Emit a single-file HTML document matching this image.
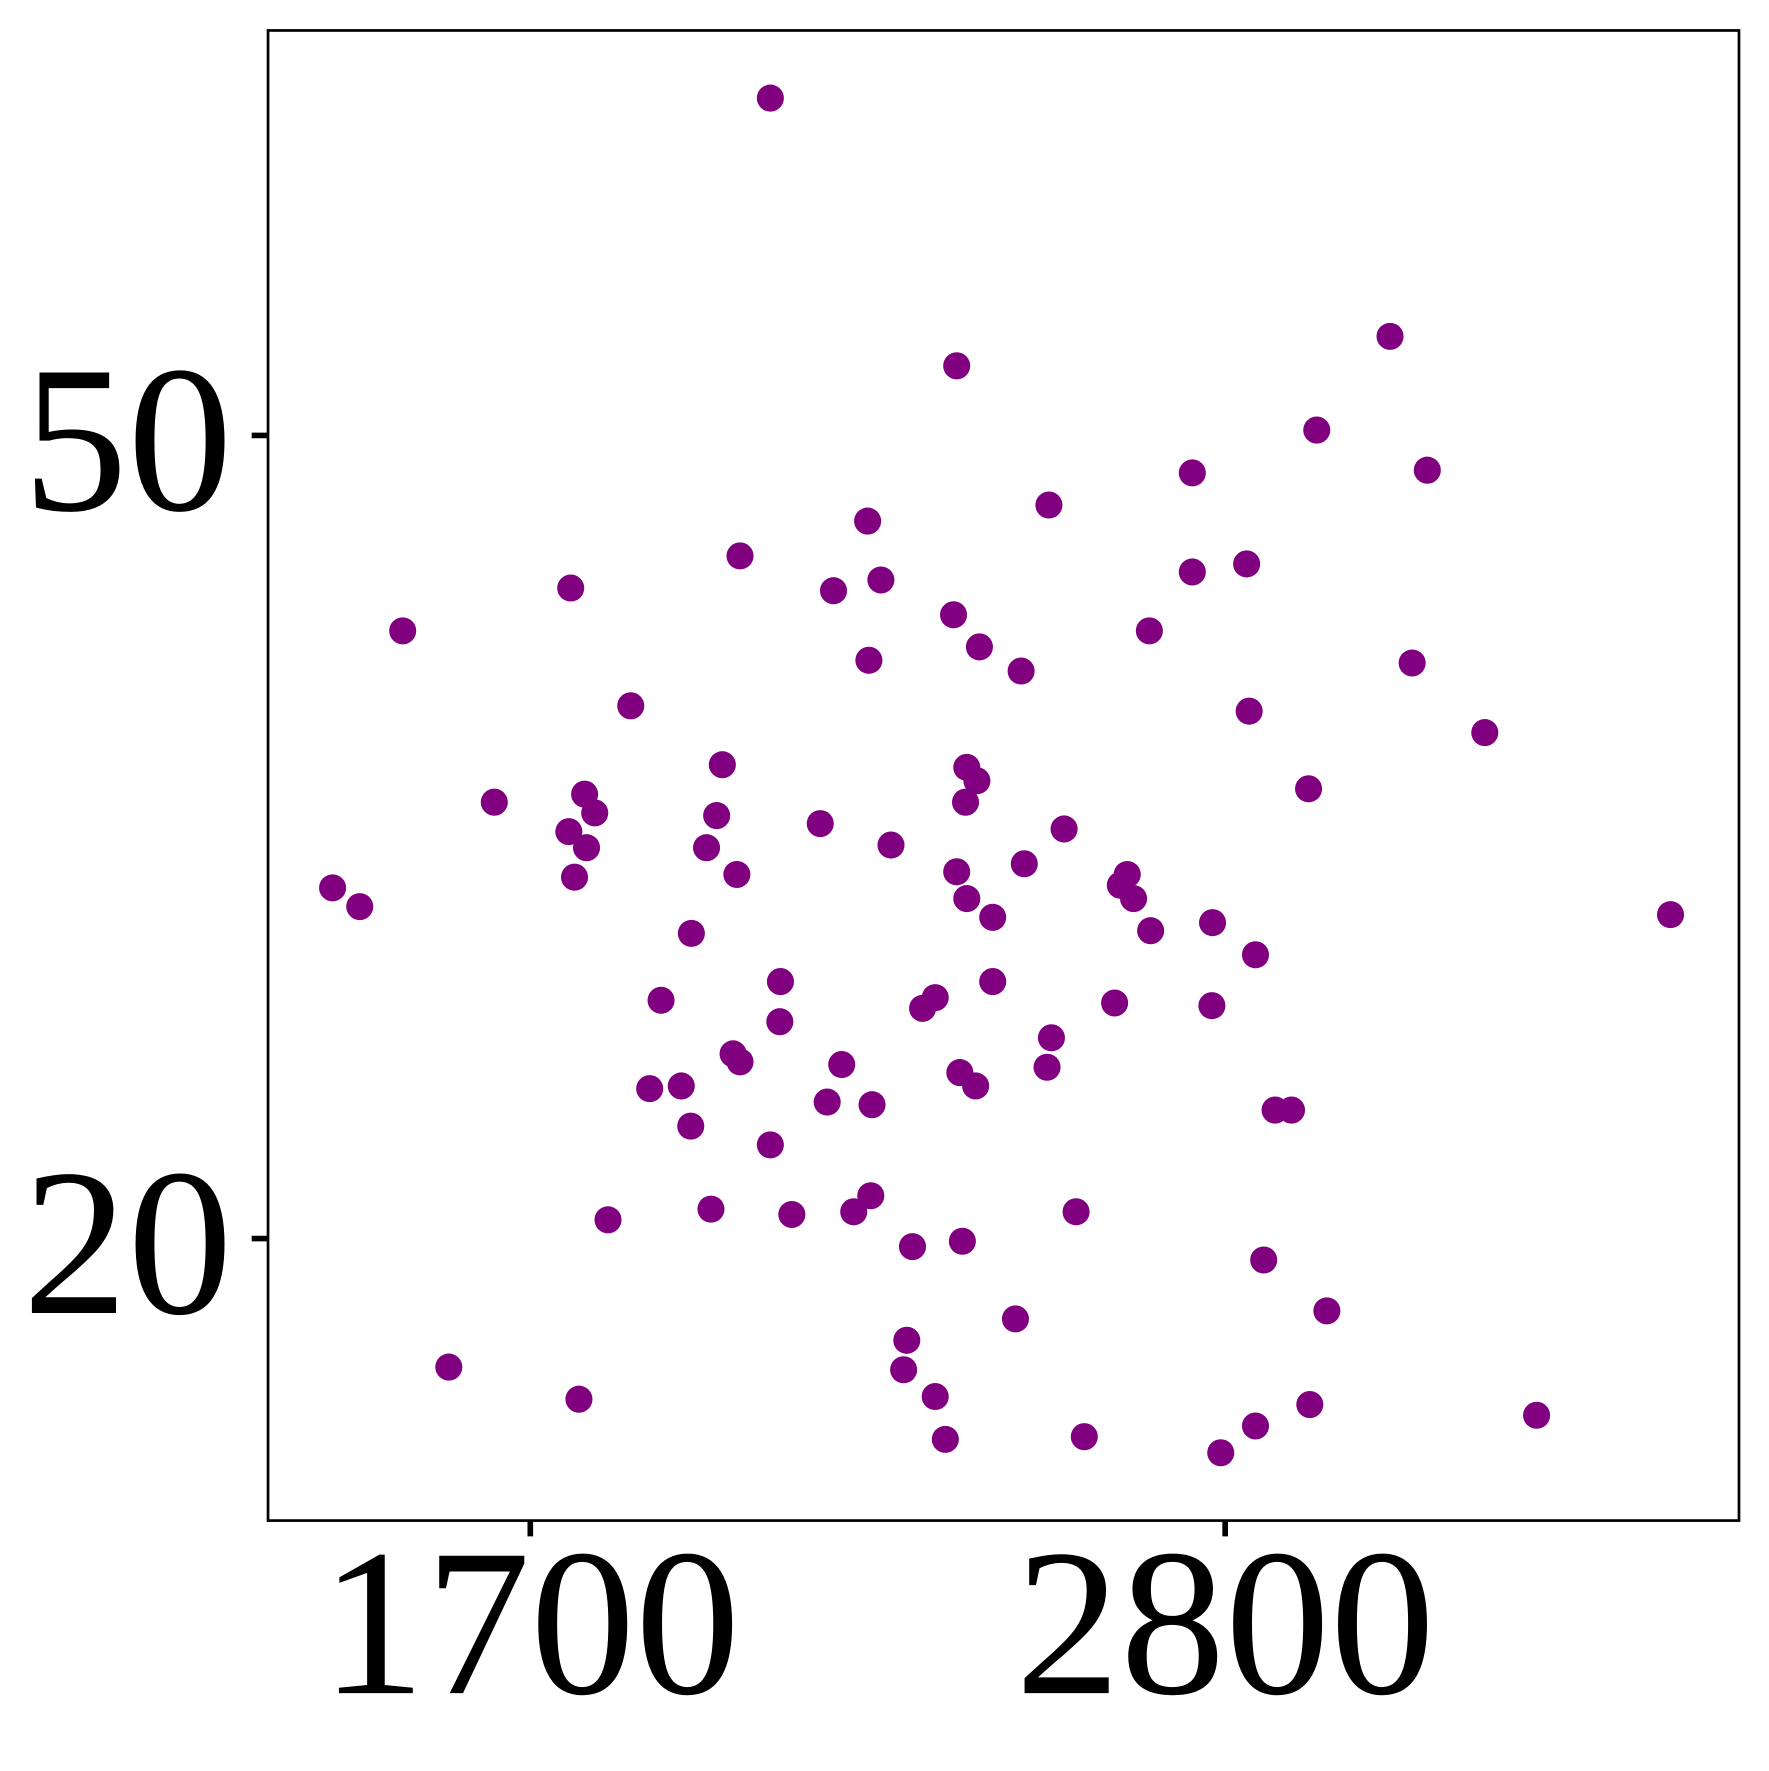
<!DOCTYPE html>
<html><head><meta charset="utf-8"><style>
html,body{margin:0;padding:0;background:#fff;}
svg{display:block;}
text{font-family:"Liberation Serif","Times New Roman",Times,"Nimbus Roman","Tinos",serif;}
</style></head>
<body>
<svg id="chart" width="1769" height="1771" viewBox="0 0 1568 1570" xmlns="http://www.w3.org/2000/svg">
<rect x="0" y="0" width="1568" height="1570" fill="#fff"/>
<g id="points"></g>
<rect x="237.5" y="27" width="1304" height="1321" fill="none" stroke="#000" stroke-width="2.4"/>
<g id="axes"></g>
</svg>
<script>
const xValues = [2080,2375,3061,2945,2748,3120,2521,2234,2032,1764,2180,2255,2834,2748,1498,2370,2411,2680,2236,2477,3096,1859,2838,3211,2004,2391,2407,2932,1643,1786,1802,2389,1995,2159,1761,2545,1789,1979,2271,2482,2375,2027,1770,2645,1387,2634,1430,2655,2391,2432,3505,2780,2682,1955,2848,2096,2432,2341,2321,1907,2625,2779,2095,2525,2021,2032,2193,2518,2380,2405,1889,1939,2170,2241,2879,2905,1954,2080,2239,2212,1986,2114,1823,2564,2305,2384,2861,2961,2468,2296,1571,2291,1777,2341,2934,2848,3293,2577,2357,2793];
const yValues = [62.6,52.6,53.7,50.2,48.6,48.7,47.4,46.8,45.5,44.3,44.2,44.6,45.2,44.9,42.7,43.3,42.1,42.7,41.6,41.2,41.5,39.9,39.7,38.9,37.7,37.6,37.1,36.8,36.3,36.6,35.9,36.3,35.8,35.5,35.2,35.3,34.6,34.6,34.7,34.0,33.7,33.6,33.5,33.6,33.1,33.2,32.4,32.7,32.7,32.0,32.1,31.8,31.5,31.4,30.6,29.6,29.6,29.0,28.6,28.9,28.8,28.7,28.1,27.5,26.9,26.6,26.5,26.4,26.2,25.7,25.6,25.7,25.1,25.0,24.8,24.8,24.2,23.5,21.6,21.0,21.1,20.9,20.7,21.0,19.7,19.9,19.2,17.3,17.0,16.2,15.2,15.1,14.0,14.1,13.8,13.0,13.4,12.6,12.5,12.0];
const xTicks = [1700, 2800];
const yTicks = [50, 20];
const xTickLabels = ["1700", "2800"];
const yTickLabels = ["50", "20"];

const NS = "http://www.w3.org/2000/svg";
function xScale(v){ return 470 + (v - 1700) * (616 / 1100); }
function yScale(v){ return 386 + (50 - v) * (712 / 30); }

const pg = document.getElementById('points');
for (let i = 0; i < xValues.length; i++) {
  const c = document.createElementNS(NS, 'circle');
  c.setAttribute('cx', xScale(xValues[i]));
  c.setAttribute('cy', yScale(yValues[i]));
  c.setAttribute('r', 12);
  c.setAttribute('fill', '#800080');
  
  
  pg.appendChild(c);
}

const ag = document.getElementById('axes');
xTicks.forEach((t, i) => {
  const x = xScale(t);
  const l = document.createElementNS(NS, 'line');
  l.setAttribute('x1', x); l.setAttribute('x2', x);
  l.setAttribute('y1', 1348); l.setAttribute('y2', 1362);
  l.setAttribute('stroke', '#000'); l.setAttribute('stroke-width', 5);
  
  
  ag.appendChild(l);
  const tx = document.createElementNS(NS, 'text');
  tx.setAttribute('x', x); tx.setAttribute('y', 1501);
  tx.setAttribute('text-anchor', 'middle');
  tx.setAttribute('font-size', 186);
  tx.textContent = xTickLabels[i];
  
  
  ag.appendChild(tx);
});
yTicks.forEach((t, i) => {
  const y = yScale(t);
  const l = document.createElementNS(NS, 'line');
  l.setAttribute('x1', 223); l.setAttribute('x2', 237.5);
  l.setAttribute('y1', y); l.setAttribute('y2', y);
  l.setAttribute('stroke', '#000'); l.setAttribute('stroke-width', 5);
  
  
  ag.appendChild(l);
  const tx = document.createElementNS(NS, 'text');
  tx.setAttribute('x', 206); tx.setAttribute('y', y + 66);
  tx.setAttribute('text-anchor', 'end');
  tx.setAttribute('font-size', 186);
  tx.textContent = yTickLabels[i];
  
  
  ag.appendChild(tx);
});
</script>
</body></html>
